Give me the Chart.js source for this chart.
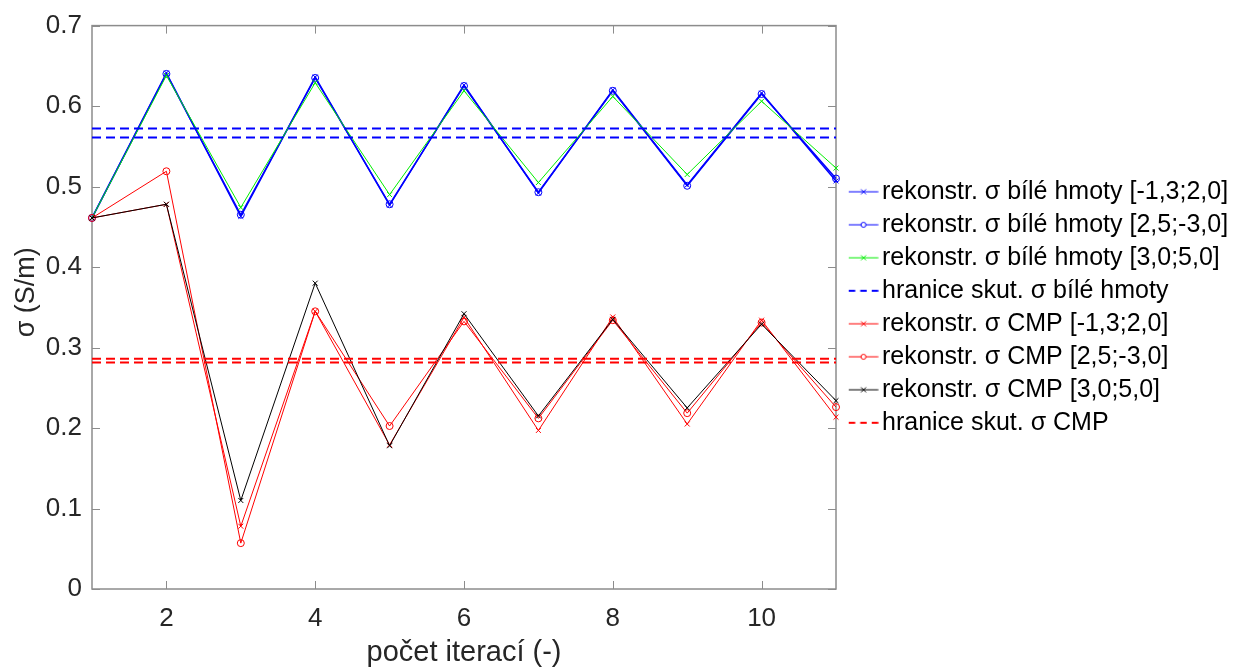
<!DOCTYPE html>
<html>
<head>
<meta charset="utf-8">
<script src="https://cdn.jsdelivr.net/npm/chart.js@4.4.1/dist/chart.umd.min.js"></script>
<style>
  html, body { margin: 0; padding: 0; background: #ffffff; }
  #plot { display: block; }
</style>
</head>
<body>
<canvas id="plot" width="1246" height="667"></canvas>
<script>
// iterations and reconstructed conductivities (S/m)
const iterations = [1, 2, 3, 4, 5, 6, 7, 8, 9, 10, 11];
const xTicks = [2, 4, 6, 8, 10];
const yTicks = [0, 0.1, 0.2, 0.3, 0.4, 0.5, 0.6, 0.7];

const wmRecA = [0.461, 0.641, 0.463, 0.636, 0.477, 0.626, 0.492, 0.620, 0.502, 0.616, 0.507];
const wmRecB = [0.461, 0.640, 0.465, 0.635, 0.478, 0.625, 0.493, 0.619, 0.501, 0.615, 0.510];
const wmRecC = [0.461, 0.638, 0.474, 0.629, 0.490, 0.619, 0.505, 0.612, 0.515, 0.606, 0.523];
const wmBounds = [0.572, 0.561];

const cmpRecA = [0.461, 0.478, 0.078, 0.345, 0.179, 0.3375, 0.197, 0.338, 0.205, 0.334, 0.2135];
const cmpRecB = [0.461, 0.519, 0.057, 0.345, 0.2025, 0.3325, 0.212, 0.334, 0.2185, 0.331, 0.226];
const cmpRecC = [0.461, 0.478, 0.110, 0.380, 0.178, 0.342, 0.215, 0.335, 0.225, 0.329, 0.234];
const cmpBounds = [0.2862, 0.2813];

const labels = [
    'rekonstr. σ bílé hmoty [-1,3;2,0]',
    'rekonstr. σ bílé hmoty [2,5;-3,0]',
    'rekonstr. σ bílé hmoty [3,0;5,0]',
    'hranice skut. σ bílé hmoty',
    'rekonstr. σ CMP [-1,3;2,0]',
    'rekonstr. σ CMP [2,5;-3,0]',
    'rekonstr. σ CMP [3,0;5,0]',
    'hranice skut. σ CMP'
];

const FONT = "'Liberation Sans', Arial, sans-serif";
const TEXT_COLOR = '#262626';
const AXIS_COLOR = '#8c8c8c';
const TICK_LEN = 8;
const LEGEND_WIDTH = 410;
const BLUE = '#0000ff';
const GREEN = '#00ee00';
const RED = '#ff0000';
const BLACK = '#000000';

function toPoints(values) {
    return values.map((v, i) => ({x: iterations[i], y: v}));
}

// both boundary levels in one dataset, separated by a gap
function boundPoints(levels) {
    const first = iterations[0];
    const last = iterations[iterations.length - 1];
    return [
        {x: first, y: levels[0]}, {x: last, y: levels[0]},
        {x: last, y: null},
        {x: first, y: levels[1]}, {x: last, y: levels[1]}
    ];
}

function recSeries(label, values, color, marker, width) {
    return {
        label: label,
        data: toPoints(values),
        borderColor: color,
        backgroundColor: 'rgba(0,0,0,0)',
        borderWidth: width,
        pointStyle: marker,
        pointRadius: 3.5,
        pointBorderColor: color,
        pointBorderWidth: 1,
        pointBackgroundColor: 'rgba(0,0,0,0)',
        tension: 0,
        _marker: marker
    };
}

function boundSeries(label, levels, color) {
    return {
        label: label,
        data: boundPoints(levels),
        borderColor: color,
        borderWidth: 2,
        borderDash: [9, 5],
        pointRadius: 0,
        spanGaps: false,
        tension: 0,
        _marker: 'dash'
    };
}

const datasets = [
    recSeries(labels[0], wmRecA, BLUE, 'crossRot', 1.5),
    recSeries(labels[1], wmRecB, BLUE, 'circle', 1.5),
    recSeries(labels[2], wmRecC, GREEN, 'crossRot', 1),
    boundSeries(labels[3], wmBounds, BLUE),
    recSeries(labels[4], cmpRecA, RED, 'crossRot', 1),
    recSeries(labels[5], cmpRecB, RED, 'circle', 1),
    recSeries(labels[6], cmpRecC, BLACK, 'crossRot', 1),
    boundSeries(labels[7], cmpBounds, RED)
];
// later series are painted over earlier ones
datasets.forEach((ds, i) => { ds.order = -i; });

// small line + marker swatch for the legend
function legendSample(color, marker) {
    const c = document.createElement('canvas');
    c.width = 44;
    c.height = 10;
    const g = c.getContext('2d');
    g.strokeStyle = color;
    const x0 = 14, x1 = 43.5, cy = 5, mx = 28.75;
    if (marker === 'dash') {
        g.lineWidth = 2;
        g.setLineDash([6.5, 5]);
    } else {
        g.lineWidth = 1;
    }
    g.beginPath();
    g.moveTo(x0, cy);
    g.lineTo(x1, cy);
    g.stroke();
    g.setLineDash([]);
    g.lineWidth = 1;
    if (marker === 'crossRot') {
        g.beginPath();
        g.moveTo(mx - 2.5, cy - 2.5); g.lineTo(mx + 2.5, cy + 2.5);
        g.moveTo(mx + 2.5, cy - 2.5); g.lineTo(mx - 2.5, cy + 2.5);
        g.stroke();
    } else if (marker === 'circle') {
        g.fillStyle = '#ffffff';
        g.beginPath();
        g.arc(mx, cy, 2.5, 0, Math.PI * 2);
        g.fill();
        g.stroke();
    }
    return c;
}

// keep the legend column at a fixed width so the axes end where they should
const fixedLegend = {
    id: 'fixedLegend',
    beforeLayout(chart) {
        const lg = chart.legend;
        if (lg && !lg._fixedWidth) {
            const fit = lg.fit.bind(lg);
            lg.fit = function () {
                fit();
                this.width = LEGEND_WIDTH;
            };
            lg._fixedWidth = true;
        }
    }
};

// inward tick marks on all four sides plus the axes box
const boxAxes = {
    id: 'boxAxes',
    beforeDatasetsDraw(chart) {
        const {ctx, chartArea: a, scales: {x, y}} = chart;
        ctx.save();
        ctx.strokeStyle = AXIS_COLOR;
        ctx.lineWidth = 1;
        ctx.beginPath();
        x.ticks.forEach(t => {
            const px = Math.round(x.getPixelForValue(t.value)) + 0.5;
            ctx.moveTo(px, a.bottom); ctx.lineTo(px, a.bottom - TICK_LEN);
            ctx.moveTo(px, a.top); ctx.lineTo(px, a.top + TICK_LEN);
        });
        y.ticks.forEach(t => {
            const py = Math.round(y.getPixelForValue(t.value)) + 0.5;
            ctx.moveTo(a.left, py); ctx.lineTo(a.left + TICK_LEN, py);
            ctx.moveTo(a.right, py); ctx.lineTo(a.right - TICK_LEN, py);
        });
        ctx.stroke();
        ctx.lineWidth = 1.5;
        ctx.strokeRect(a.left, a.top, a.right - a.left, a.bottom - a.top);
        ctx.restore();
    }
};

const ctx = document.getElementById('plot').getContext('2d');
new Chart(ctx, {
    type: 'line',
    data: {datasets: datasets},
    options: {
        responsive: false,
        animation: false,
        clip: false,
        layout: {padding: {top: 24, right: 0, bottom: 0, left: 0}},
        plugins: {
            tooltip: {enabled: false},
            legend: {
                position: 'right',
                align: 'center',
                fullSize: false,
                labels: {
                    usePointStyle: true,
                    pointStyleWidth: 25.5,
                    padding: 8,
                    color: '#000000',
                    font: {family: FONT, size: 25},
                    generateLabels(chart) {
                        return chart.data.datasets.map((ds, i) => ({
                            text: ds.label,
                            datasetIndex: i,
                            pointStyle: legendSample(ds.borderColor, ds._marker),
                            fillStyle: 'rgba(0,0,0,0)',
                            strokeStyle: 'rgba(0,0,0,0)',
                            lineWidth: 0,
                            fontColor: '#000000',
                            hidden: false
                        }));
                    }
                }
            }
        },
        scales: {
            x: {
                type: 'linear',
                min: 1,
                max: 11,
                afterBuildTicks(scale) { scale.ticks = xTicks.map(v => ({value: v})); },
                afterFit(scale) { scale.height = 78; },
                grid: {display: false, drawTicks: false},
                border: {display: false},
                ticks: {
                    padding: 14,
                    color: TEXT_COLOR,
                    font: {family: FONT, size: 26},
                    maxRotation: 0,
                    callback: v => String(v)
                },
                title: {
                    display: true,
                    text: 'počet iterací (-)',
                    color: TEXT_COLOR,
                    font: {family: FONT, size: 29, lineHeight: 1},
                    padding: {top: 0, bottom: 0}
                }
            },
            y: {
                type: 'linear',
                min: 0,
                max: 0.7,
                afterBuildTicks(scale) { scale.ticks = yTicks.map(v => ({value: v})); },
                afterFit(scale) { scale.width = 92; },
                grid: {display: false, drawTicks: false},
                border: {display: false},
                ticks: {
                    padding: 10,
                    color: TEXT_COLOR,
                    font: {family: FONT, size: 26},
                    callback: v => (v === 0 ? '0' : v.toFixed(1))
                },
                title: {
                    display: true,
                    text: '    σ (S/m)',
                    color: TEXT_COLOR,
                    font: {family: FONT, size: 27, lineHeight: 1},
                    padding: {top: 13.5, bottom: 0}
                }
            }
        }
    },
    plugins: [fixedLegend, boxAxes]
});
</script>
</body>
</html>
